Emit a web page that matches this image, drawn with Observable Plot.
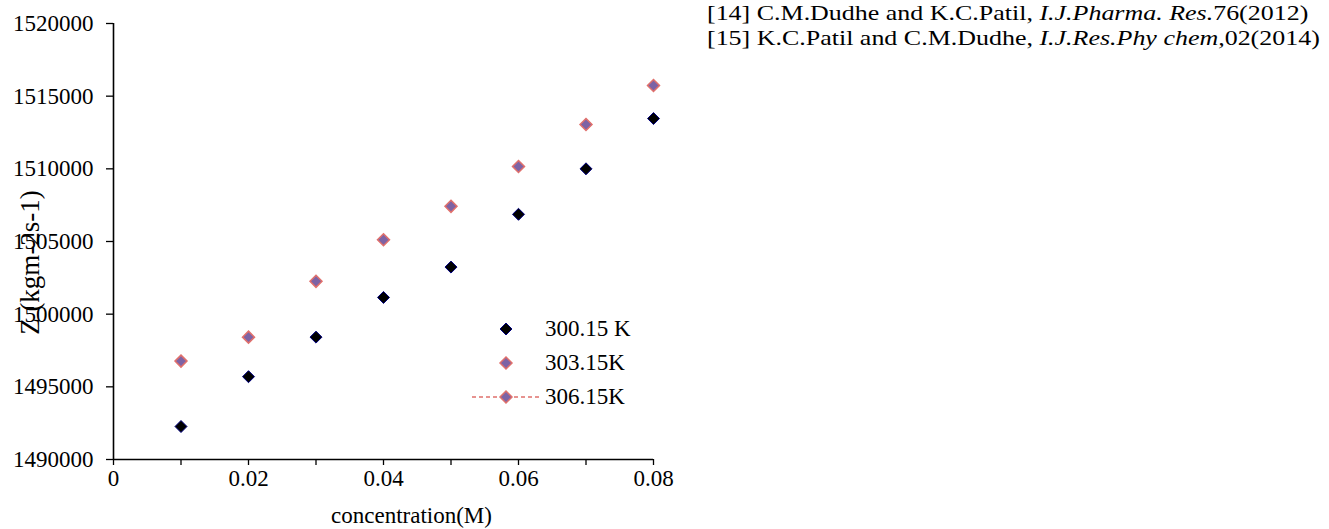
<!DOCTYPE html>
<html>
<head>
<meta charset="utf-8">
<script src="https://cdn.jsdelivr.net/npm/d3@7"></script>
<script src="https://cdn.jsdelivr.net/npm/@observablehq/plot@0.6"></script>
<style>
  html, body { margin: 0; padding: 0; background: #fff; }
  #wrap { position: relative; width: 1329px; height: 529px; overflow: hidden; font-family: "Liberation Serif", "Times New Roman", serif; color: #000; }
  #chart { position: absolute; left: 0; top: 0; }
  #refs { position: absolute; left: 707px; top: 1px; font-size: 22px; line-height: 24.5px; white-space: nowrap; transform: scaleX(1.18); transform-origin: 0 0; }
  #legend { position: absolute; left: 470px; top: 312px; font-size: 23px; }
  .lg-row { display: flex; align-items: center; height: 34px; }
  .lg-row svg { width: 72px; height: 20px; }
  .lg-row span { margin-left: 3px; }
</style>
</head>
<body>
<div id="wrap">
  <div id="chart"></div>
  <div id="refs"></div>
  <div id="legend"></div>
</div>
<script>
// ---- data ----
const concentration = [0.01, 0.02, 0.03, 0.04, 0.05, 0.06, 0.07, 0.08];
const z300 = [1492270, 1495700, 1498420, 1501150, 1503240, 1506870, 1510000, 1513460];
const z303 = [1496770, 1498420, 1502260, 1505120, 1507420, 1510160, 1513050, 1515730];
const seriesNames = ["300.15 K", "303.15K", "306.15K"];
const yTicks = [1490000, 1495000, 1500000, 1505000, 1510000, 1515000, 1520000];
const xMajorTicks = [0, 0.02, 0.04, 0.06, 0.08];
const xMajorLabels = ["0", "0.02", "0.04", "0.06", "0.08"];
const xMinorTicks = [0.01, 0.03, 0.05, 0.07];
const xLabel = "concentration(M)";
const yLabel = "Z (kgm-2s-1)";
const references = [
  ["[14] C.M.Dudhe and K.C.Patil, ", "I.J.Pharma. Res.", "76(2012)"],
  ["[15] K.C.Patil and C.M.Dudhe, ", "I.J.Res.Phy chem,", "02(2014)"]
];

// ---- styles ----
const black = {fill: "#000000", stroke: "#000080", strokeWidth: 1};
const purple = {fill: "#7d63a5", stroke: "#e0706c", strokeWidth: 1.5};

const rows300 = concentration.map((c, i) => ({c, z: z300[i]}));
const rows303 = concentration.map((c, i) => ({c, z: z303[i]}));

const chart = Plot.plot({
  width: 700,
  height: 529,
  marginLeft: 113,
  marginRight: 47,
  marginTop: 23,
  marginBottom: 70,
  style: {fontFamily: "'Liberation Serif', 'Times New Roman', serif", fontSize: "23px", color: "#000", background: "transparent"},
  x: {domain: [0, 0.08]},
  y: {domain: [1490000, 1520000]},
  marks: [
    Plot.axisY({ticks: yTicks, tickSize: 7, tickPadding: 13, tickFormat: d => d3.format("d")(d), label: null, stroke: "#000", strokeWidth: 1.3, fill: "#000"}),
    Plot.axisX({ticks: xMajorTicks, tickSize: 6, tickPadding: 4, tickFormat: (d, i) => xMajorLabels[i], label: null, stroke: "#000", strokeWidth: 1.3, fill: "#000"}),
    Plot.axisX({ticks: xMinorTicks, tickSize: 6, tickFormat: () => "", label: null, stroke: "#000", strokeWidth: 1.3}),
    Plot.ruleX([0], {stroke: "#000", strokeWidth: 1.6}),
    Plot.ruleY([1490000], {stroke: "#000", strokeWidth: 1.6}),
    Plot.dot(rows303, {x: "c", y: "z", symbol: "diamond2", r: 5.4, ...purple}),
    Plot.dot(rows300, {x: "c", y: "z", symbol: "diamond2", r: 5.4, ...black}),
    Plot.text([xLabel], {frameAnchor: "bottom", lineAnchor: "middle", dx: 28, dy: 56, fontSize: 23, fill: "#000"}),
    Plot.text([yLabel], {frameAnchor: "left", textAnchor: "middle", lineAnchor: "middle", rotate: -90, dx: -83, dy: 21, fontSize: 27, fill: "#000"})
  ]
});
document.getElementById("chart").appendChild(chart);

// ---- references ----
const refs = d3.select("#refs");
references.forEach(r => {
  const line = refs.append("div");
  line.append("span").text(r[0]);
  line.append("i").text(r[1]);
  line.append("span").text(r[2]);
});

// ---- legend ----
const legend = d3.select("#legend");
const legendStyles = [black, purple, purple];
seriesNames.forEach((name, i) => {
  const row = legend.append("div").attr("class", "lg-row");
  const svg = row.append("svg");
  if (i === 2) {
    svg.append("line").attr("x1", 2).attr("x2", 70).attr("y1", 10).attr("y2", 10)
      .attr("stroke", "#e0706c").attr("stroke-width", 1.3).attr("stroke-dasharray", "4,3");
  }
  const st = legendStyles[i];
  svg.append("path").attr("d", "M36,4 L42,10 L36,16 L30,10 Z")
    .attr("fill", st.fill).attr("stroke", st.stroke).attr("stroke-width", st.strokeWidth);
  row.append("span").text(name);
});
</script>
</body>
</html>
